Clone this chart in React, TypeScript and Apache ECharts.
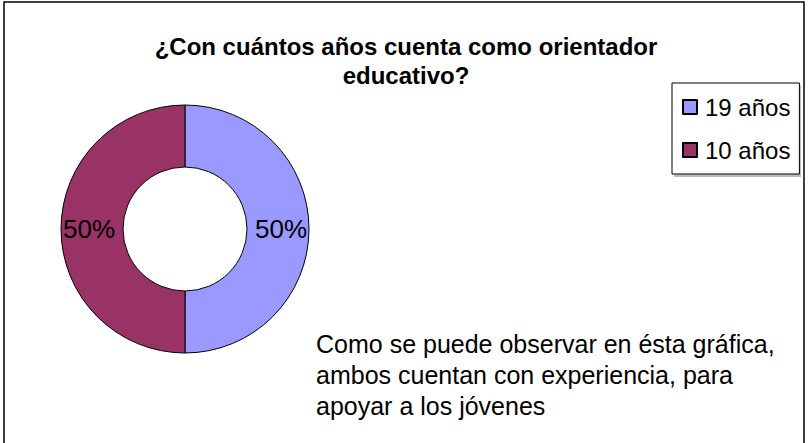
import React, { useEffect, useRef } from "react";
import * as echarts from "echarts";

const titleLines = ["¿Con cuántos años cuenta como orientador", "educativo?"];
const categories = ["19 años", "10 años"];
const values = [50, 50];
const colors = ["#9999FF", "#993366"];
const noteLines = [
  "Como se puede observar en ésta gráfica,",
  "ambos cuentan con experiencia, para",
  "apoyar a los jóvenes",
];

const FONT = "'Liberation Sans', Arial, sans-serif";

export default function App() {
  const ref = useRef<HTMLDivElement>(null);
  useEffect(() => {
    if (!ref.current) return;
    const chart = echarts.init(ref.current, null, { renderer: "svg" });
    chart.setOption({
      animation: false,
      backgroundColor: "#ffffff",
      title: {
        text: titleLines.join("\n"),
        left: 401,
        top: 27,
        textAlign: "center",
        textStyle: {
          fontFamily: FONT,
          fontWeight: "bold",
          fontSize: 24,
          lineHeight: 29,
          color: "#000",
        },
      },
      legend: {
        orient: "vertical",
        left: 672,
        top: 83,
        data: categories,
        backgroundColor: "#fff",
        borderColor: "#000",
        borderWidth: 1,
        padding: [12, 9, 12, 10],
        itemGap: 19,
        itemWidth: 14,
        itemHeight: 14,
        icon: "rect",
        textStyle: {
          fontFamily: FONT,
          fontSize: 24,
          color: "#000",
          padding: [0, 0, 0, 3],
        },
      },
      graphic: [
        {
          type: "rect",
          shape: { x: 4, y: 2, width: 800, height: 470 },
          style: { fill: "none", stroke: "#000", lineWidth: 1.5 },
          silent: true,
        },
        {
          type: "rect",
          shape: { x: 674, y: 85, width: 127, height: 92 },
          style: { fill: "#bbbbbb" },
          silent: true,
          z: 0,
        },
        {
          type: "text",
          left: 316,
          top: 328,
          style: {
            text: noteLines.join("\n"),
            font: `25px ${FONT}`,
            fill: "#000",
            lineHeight: 31,
          },
        },
      ],
      series: [
        {
          type: "pie",
          center: [185, 229],
          radius: [62, 124],
          startAngle: 90,
          clockwise: true,
          data: categories.map((name, i) => ({
            name,
            value: values[i],
            itemStyle: { color: colors[i] },
          })),
          itemStyle: { borderColor: "#000", borderWidth: 1 },
          label: {
            show: true,
            position: "inside",
            formatter: "{d}%",
            fontFamily: FONT,
            fontSize: 26,
            color: "#000",
          },
          labelLine: { show: false },
          emphasis: { disabled: true },
        },
      ],
    });
    return () => chart.dispose();
  }, []);
  return (
    <div
      ref={ref}
      style={{ position: "fixed", left: 0, top: 0, width: 808, height: 443 }}
    />
  );
}
